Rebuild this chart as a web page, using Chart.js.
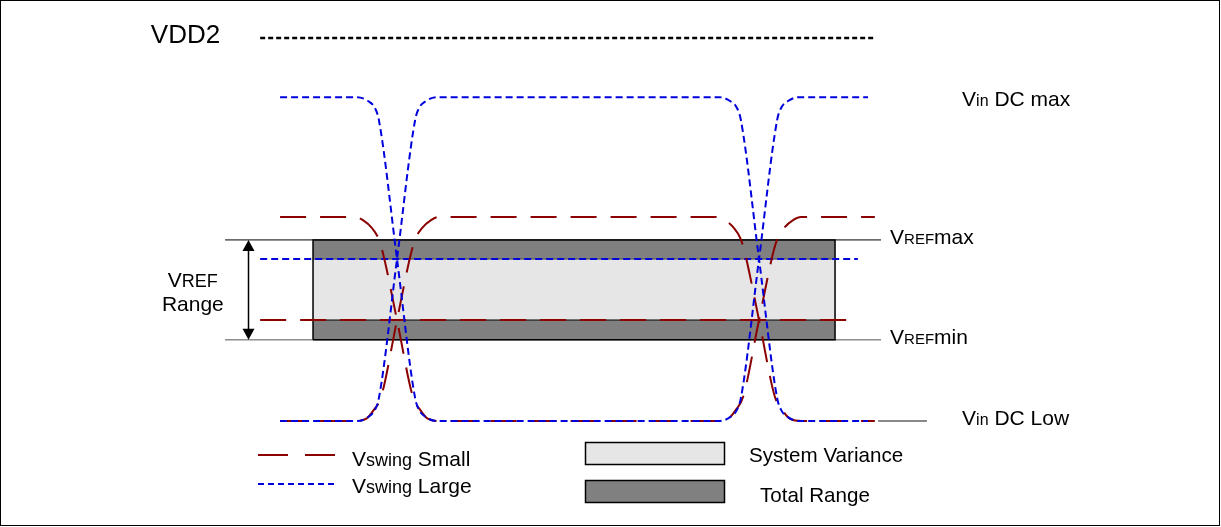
<!DOCTYPE html>
<html>
<head>
<meta charset="utf-8">
<title>VREF range</title>
<script src="https://cdn.jsdelivr.net/npm/chart.js@4.4.1/dist/chart.umd.min.js"></script>
<style>
  html, body { margin: 0; padding: 0; background: #fff; }
  #wrap { width: 1221px; height: 527px; position: relative; }
</style>
</head>
<body>
<div id="wrap"><canvas id="vrefChart"></canvas></div>
<script>
// ---- levels (mV, 0 = Vin DC Low) ----
const levelVDD2 = 1100;
const levelVinDcMax = 930;
const levelSmallHigh = 586;
const levelVrefMax = 520;
const levelVrefLarge = 465;
const levelVrefSmall = 290;
const levelVrefMin = 233;
const levelVinDcLow = 0;

// ---- waveforms (time in ps, crossings at 0 and 1000) ----
const largeTimeA = [-323, -110, -80, -61, -50, 0, 50, 61, 80, 110, 890, 920, 939, 950, 1000, 1050, 1061, 1080, 1110, 1301];
const largeLevelA = [930, 930, 919, 899, 864, 465, 66, 32, 11, 0, 0, 11, 32, 66, 465, 864, 899, 919, 930, 930];
const largeTimeB = [-323, -110, -80, -61, -50, 0, 50, 61, 80, 110, 890, 920, 939, 950, 1000, 1050, 1061, 1080, 1110, 1301];
const largeLevelB = [0, 0, 11, 32, 66, 465, 864, 899, 919, 930, 930, 919, 899, 864, 465, 66, 32, 11, 0, 0];

const smallTimeA = [-323, -116, -94, -69, -52, -41, 0, 44, 64, 86, 119, 881, 914, 936, 956, 1000, 1041, 1052, 1069, 1094, 1116, 1320];
const smallLevelA = [586, 586, 577, 554, 526, 491, 290, 69, 32, 6, 0, 0, 6, 32, 69, 290, 491, 526, 554, 577, 586, 586];
const smallTimeB = [-323, -119, -86, -64, -44, 0, 41, 52, 69, 94, 116, 884, 906, 931, 948, 959, 1000, 1044, 1064, 1086, 1119, 1320];
const smallLevelB = [0, 0, 6, 32, 69, 290, 491, 526, 554, 577, 586, 586, 577, 554, 526, 491, 290, 69, 32, 6, 0, 0];

// ---- spans of the level lines (ps) ----
const vddSpan = [-378, 1323];
const refSpan = [-378, 1273];
const bandSpan = [-232, 1210];
const vrefSpan = [-475, 1337];
const lowMarkSpan = [1329, 1464];
const rangeArrowTime = -412;

// ---- label anchors (ps) ----
const vddLabelTime = -680;
const rightLabelTime = 1561;
const vrefLabelTime = 1362;
const rangeLabelTime = -564;

const RED = '#8b0000';
const BLUE = '#0000dd';
const FONT = '"Liberation Sans", Arial, sans-serif';

function pts(ts, vs) {
    return ts.map((t, i) => ({ x: t, y: vs[i] }));
}
function flat(span, v) {
    return [{ x: span[0], y: v }, { x: span[1], y: v }];
}

function lineSet(data, color, width, dash, extra) {
    return Object.assign({
        data: data,
        borderColor: color,
        borderWidth: width,
        borderDash: dash || [],
        pointRadius: 0,
        fill: false,
        tension: 0
    }, extra || {});
}

// draw text made of parts with different sizes
function drawRich(ctx, parts, x, y, align) {
    let total = 0;
    parts.forEach(p => {
        ctx.font = p[1] + 'px ' + FONT;
        total += ctx.measureText(p[0]).width;
    });
    if (align === 'center') x -= total / 2;
    ctx.textAlign = 'left';
    ctx.textBaseline = 'alphabetic';
    ctx.fillStyle = '#000';
    parts.forEach(p => {
        ctx.font = p[1] + 'px ' + FONT;
        ctx.fillText(p[0], x, y);
        x += ctx.measureText(p[0]).width;
    });
}

const annotations = {
    id: 'annotations',
    afterDatasetsDraw(chart) {
        const ctx = chart.ctx;
        const xs = chart.scales.x;
        const ys = chart.scales.y;
        ctx.save();

        // VREF range arrow
        const ax = Math.round(xs.getPixelForValue(rangeArrowTime)) + 0.5;
        const top = ys.getPixelForValue(levelVrefMax);
        const bot = ys.getPixelForValue(levelVrefMin);
        ctx.strokeStyle = '#000';
        ctx.fillStyle = '#000';
        ctx.lineWidth = 1.5;
        ctx.beginPath();
        ctx.moveTo(ax, top + 8);
        ctx.lineTo(ax, bot - 8);
        ctx.stroke();
        ctx.beginPath();
        ctx.moveTo(ax, top);
        ctx.lineTo(ax - 6, top + 11);
        ctx.lineTo(ax + 6, top + 11);
        ctx.closePath();
        ctx.fill();
        ctx.beginPath();
        ctx.moveTo(ax, bot);
        ctx.lineTo(ax - 6, bot - 11);
        ctx.lineTo(ax + 6, bot - 11);
        ctx.closePath();
        ctx.fill();

        // level labels
        drawRich(ctx, [['VDD2', 26]], xs.getPixelForValue(vddLabelTime), ys.getPixelForValue(levelVDD2) + 5);
        drawRich(ctx, [['V', 21], ['in', 16], [' DC max', 21]], xs.getPixelForValue(rightLabelTime), ys.getPixelForValue(levelVinDcMax) + 9);
        drawRich(ctx, [['V', 21], ['REF', 15], ['max', 21]], xs.getPixelForValue(vrefLabelTime), ys.getPixelForValue(levelVrefMax) + 4);
        drawRich(ctx, [['V', 21], ['REF', 15], ['min', 21]], xs.getPixelForValue(vrefLabelTime), ys.getPixelForValue(levelVrefMin) + 4);
        drawRich(ctx, [['V', 21], ['in', 16], [' DC Low', 21]], xs.getPixelForValue(rightLabelTime), ys.getPixelForValue(levelVinDcLow) + 4);

        const rx = xs.getPixelForValue(rangeLabelTime);
        const mid = ys.getPixelForValue((levelVrefMax + levelVrefMin) / 2);
        drawRich(ctx, [['V', 21], ['REF', 18]], rx, mid - 3, 'center');
        drawRich(ctx, [['Range', 21]], rx, mid + 21, 'center');

        // legend
        ctx.lineWidth = 2;
        ctx.setLineDash([30, 17]);
        ctx.strokeStyle = RED;
        ctx.beginPath();
        ctx.moveTo(258, 455);
        ctx.lineTo(335, 455);
        ctx.stroke();
        ctx.setLineDash([6, 4]);
        ctx.strokeStyle = BLUE;
        ctx.beginPath();
        ctx.moveTo(258, 484);
        ctx.lineTo(335, 484);
        ctx.stroke();
        ctx.setLineDash([]);
        drawRich(ctx, [['V', 21], ['swing', 18], [' Small', 21]], 352, 466);
        drawRich(ctx, [['V', 21], ['swing', 18], [' Large', 21]], 352, 493);

        ctx.lineWidth = 1.5;
        ctx.strokeStyle = '#000';
        ctx.fillStyle = '#e6e6e6';
        ctx.fillRect(585.5, 442.5, 139, 22);
        ctx.strokeRect(585.5, 442.5, 139, 22);
        ctx.fillStyle = '#808080';
        ctx.fillRect(585.5, 480.5, 139, 22);
        ctx.strokeRect(585.5, 480.5, 139, 22);
        drawRich(ctx, [['System Variance', 20.6]], 749, 462);
        drawRich(ctx, [['Total Range', 20.6]], 760, 502);

        // frame
        ctx.lineWidth = 1;
        ctx.strokeStyle = '#000';
        ctx.strokeRect(0.5, 0.5, chart.width - 2, chart.height - 2);
        ctx.restore();
    }
};

const outline = [
    { x: bandSpan[0], y: levelVrefMin },
    { x: bandSpan[0], y: levelVrefMax },
    { x: bandSpan[1], y: levelVrefMax },
    { x: bandSpan[1], y: levelVrefMin },
    { x: bandSpan[0], y: levelVrefMin }
];

const datasets = [
    lineSet(pts(largeTimeA, largeLevelA), BLUE, 2, [7, 4], { cubicInterpolationMode: 'monotone' }),
    lineSet(pts(largeTimeB, largeLevelB), BLUE, 2, [7, 4], { cubicInterpolationMode: 'monotone' }),
    lineSet(pts(smallTimeA, smallLevelA), RED, 2, [26, 14], { cubicInterpolationMode: 'monotone' }),
    lineSet(pts(smallTimeB, smallLevelB), RED, 2, [26, 14], { cubicInterpolationMode: 'monotone' }),
    lineSet(flat(vddSpan, levelVDD2), '#000', 2.5, [5, 3]),
    lineSet(flat(refSpan, levelVrefLarge), BLUE, 2, [7, 4]),
    lineSet(flat(refSpan, levelVrefSmall), RED, 2, [26, 14]),
    lineSet(outline, '#000', 1.5),
    lineSet(flat(bandSpan, levelVrefSmall), '#000', 1),
    lineSet(flat(bandSpan, levelVrefLarge), '#444', 1, [], { fill: { value: levelVrefSmall }, backgroundColor: '#e6e6e6' }),
    lineSet(flat(bandSpan, levelVrefMax), '#000', 0, [], { fill: { value: levelVrefMin }, backgroundColor: '#808080' }),
    lineSet(flat(vrefSpan, levelVrefMax), '#000', 1),
    lineSet(flat(vrefSpan, levelVrefMin), '#555', 1),
    lineSet(flat(lowMarkSpan, levelVinDcLow), '#888', 2)
];

new Chart(document.getElementById('vrefChart'), {
    type: 'line',
    data: { datasets: datasets },
    options: {
        responsive: true,
        maintainAspectRatio: false,
        animation: false,
        devicePixelRatio: 1,
        layout: { padding: 0 },
        plugins: {
            legend: { display: false },
            tooltip: { enabled: false }
        },
        scales: {
            x: { type: 'linear', display: false, min: -1096.7, max: 2276.2 },
            y: { type: 'linear', display: false, min: -304.5, max: 1209.1 }
        }
    },
    plugins: [annotations]
});
</script>
</body>
</html>
